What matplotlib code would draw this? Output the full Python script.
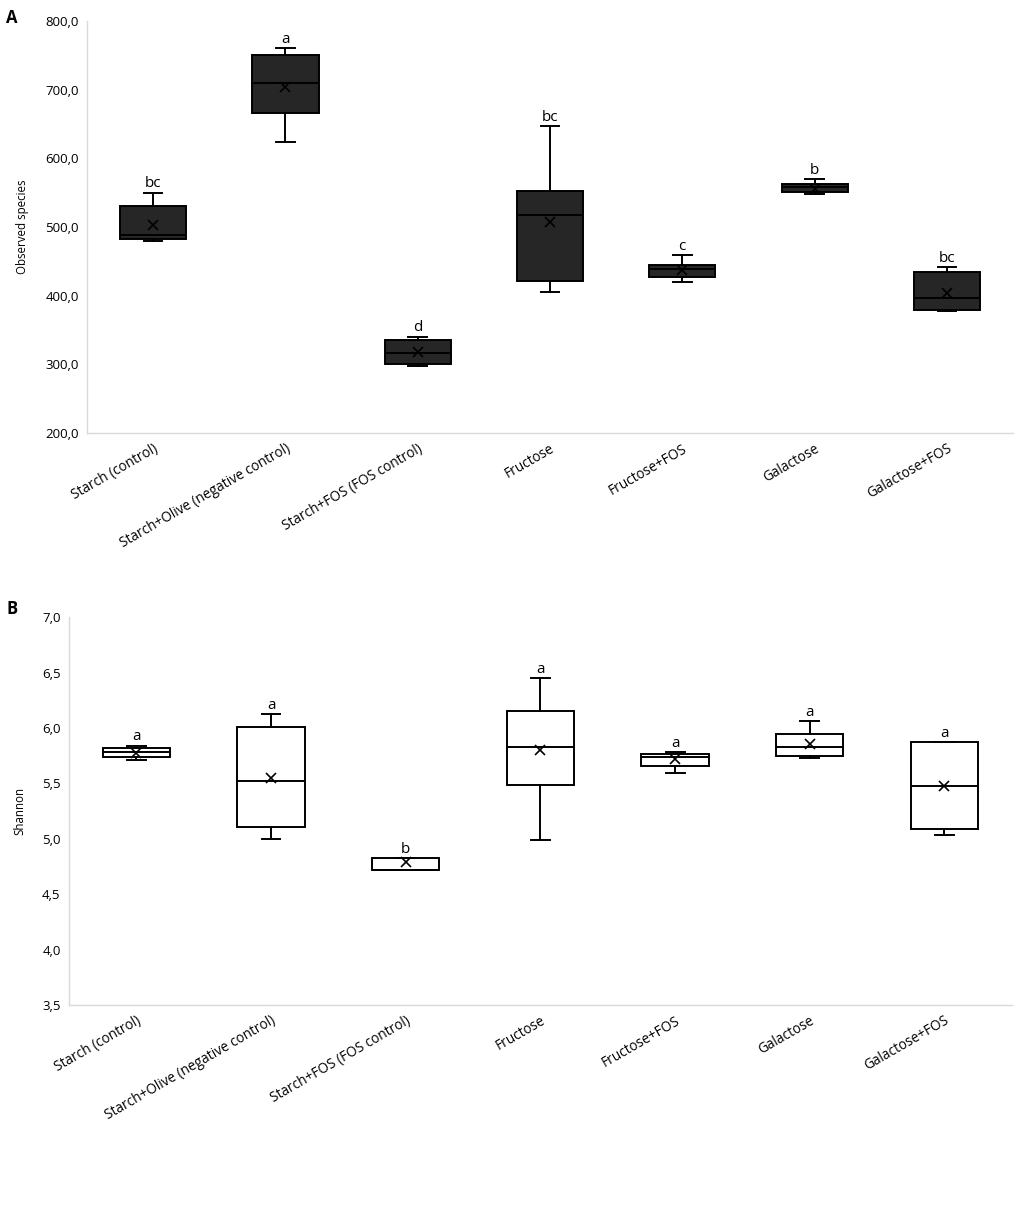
import matplotlib
matplotlib.use("Agg")
import matplotlib.pyplot as plt

plt.rcParams['font.family'] = ['Open Sans', 'DejaVu Sans']

categories = ["Starch (control)", "Starch+Olive (negative control)", "Starch+FOS (FOS control)",
              "Fructose", "Fructose+FOS", "Galactose", "Galactose+FOS"]

# Panel A: Observed species
obs_whislo = [480, 624, 298, 406, 420, 548.5, 377]
obs_q1     = [482, 665.6, 301, 422, 427, 551, 379]
obs_med    = [488, 710, 317, 517, 438.5, 558, 397]
obs_q3     = [531, 750, 335, 553, 444, 563, 434]
obs_whishi = [550, 760, 340, 647, 459, 570, 441]
obs_mean   = [502.5, 704, 318, 507, 438, 556, 404]
obs_letters = ["bc", "a", "d", "bc", "c", "b", "bc"]
obs_ticks = [200, 300, 400, 500, 600, 700, 800]
obs_ticklabels = ["200,0", "300,0", "400,0", "500,0", "600,0", "700,0", "800,0"]

# Panel B: Shannon
sh_whislo = [5.71, 5.00, 4.72, 4.99, 5.595, 5.73, 5.035]
sh_q1     = [5.74, 5.11, 4.72, 5.49, 5.66, 5.745, 5.09]
sh_med    = [5.78, 5.52, 4.72, 5.83, 5.74, 5.83, 5.48]
sh_q3     = [5.82, 6.01, 4.825, 6.15, 5.77, 5.95, 5.87]
sh_whishi = [5.84, 6.125, 4.825, 6.45, 5.78, 6.06, 5.87]
sh_mean   = [5.775, 5.55, 4.79, 5.80, 5.72, 5.86, 5.475]
sh_letters = ["a", "a", "b", "a", "a", "a", "a"]
sh_ticks = [3.5, 4.0, 4.5, 5.0, 5.5, 6.0, 6.5, 7.0]
sh_ticklabels = ["3,5", "4,0", "4,5", "5,0", "5,5", "6,0", "6,5", "7,0"]

fig = plt.figure(figsize=(10.21, 12.18), dpi=100)

def draw(ax, whislo, q1, med, q3, whishi, mean, letters, facecolor, ylim, ticks, ticklabels, ylabel):
    stats = []
    for i in range(len(categories)):
        stats.append(dict(whislo=whislo[i], q1=q1[i], med=med[i], q3=q3[i],
                          whishi=whishi[i], mean=mean[i], fliers=[], label=categories[i]))
    pos = list(range(len(categories)))
    ax.bxp(stats, positions=pos, widths=0.5, capwidths=0.14, showmeans=True,
           showfliers=False, patch_artist=True,
           boxprops=dict(facecolor=facecolor, edgecolor='black', linewidth=1.4),
           medianprops=dict(color='black', linewidth=1.4),
           whiskerprops=dict(color='black', linewidth=1.4),
           capprops=dict(color='black', linewidth=1.4),
           meanprops=dict(marker='x', markeredgecolor='black', markersize=7.5, markeredgewidth=1.2))
    for i, l in enumerate(letters):
        ax.annotate(l, (pos[i], whishi[i]), xytext=(0, 1), textcoords='offset points',
                    ha='center', va='bottom', fontsize=11)
    ax.set_xlim(-0.5, len(categories) - 0.5)
    ax.set_ylim(*ylim)
    ax.set_yticks(ticks)
    ax.set_yticklabels(ticklabels, fontsize=9.5)
    ax.set_xticks(pos)
    ax.set_xticklabels(categories, rotation=30, ha='right', rotation_mode='anchor', fontsize=9.8)
    ax.tick_params(length=0, pad=6)
    for s in ['top', 'right']:
        ax.spines[s].set_visible(False)
    for s in ['left', 'bottom']:
        ax.spines[s].set_color('#d9d9d9')
        ax.spines[s].set_linewidth(1.0)
    ax.set_ylabel(ylabel, fontsize=8.3)

axA = fig.add_axes([0.0852, 0.6445, 0.907, 0.3383])
draw(axA, obs_whislo, obs_q1, obs_med, obs_q3, obs_whishi, obs_mean, obs_letters,
     '#262626', (200, 800), obs_ticks, obs_ticklabels, "Observed species")
axA.yaxis.set_label_coords(-0.063, 0.5)

axB = fig.add_axes([0.0676, 0.1749, 0.9234, 0.3183])
draw(axB, sh_whislo, sh_q1, sh_med, sh_q3, sh_whishi, sh_mean, sh_letters,
     'white', (3.5, 7.0), sh_ticks, sh_ticklabels, "Shannon")
axB.yaxis.set_label_coords(-0.045, 0.5)

fig.text(0.006, 0.985, "A", fontsize=12, fontweight='bold', va='center')
fig.text(0.006, 0.5, "B", fontsize=12, fontweight='bold', va='center')

fig.savefig("out.png", dpi=100)
